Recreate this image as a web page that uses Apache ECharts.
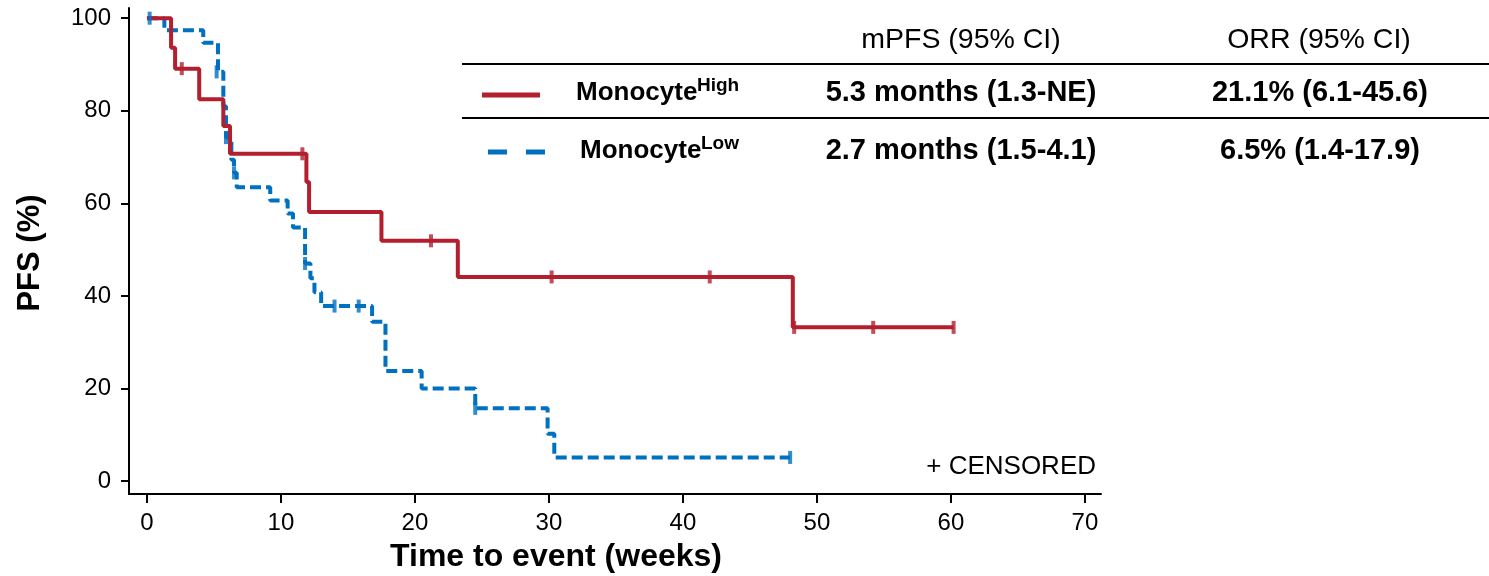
<!DOCTYPE html>
<html lang="en">
<head>
    <meta charset="UTF-8">
    <title>PFS by monocyte level</title>
    <style>
        body, html {
            margin: 0;
            padding: 0;
            width: 100%;
            height: 100%;
            background: #fff;
        }
        #container {
            width: 1489px;
            height: 576px;
        }
    </style>
    <script src="https://cdn.jsdelivr.net/npm/echarts@6/dist/echarts.min.js"></script>
</head>
<body>
<div id="container"></div>
<script type="text/javascript">
    // Monocyte-high arm: time (weeks) where the curve steps, PFS (%) after the step
    var highTime = [0, 1.8, 2.1, 3.9, 5.7, 6.2, 11.9, 12.1, 17.5, 23.2, 48.2, 60.2];
    var highSurv = [100, 93.6, 89.1, 82.5, 76.7, 70.7, 64.6, 58.1, 51.9, 44.1, 33.2, 33.2];
    var highCensorTime = [2.6, 11.6, 21.2, 30.2, 42.0, 48.3, 54.2, 60.2];
    var highCensorSurv = [89.1, 70.7, 51.9, 44.1, 44.1, 33.2, 33.2, 33.2];

    // Monocyte-low arm
    var lowTime = [0, 1.3, 4.2, 5.3, 5.7, 5.9, 6.3, 6.5, 6.7, 9.2, 10.5, 10.9, 11.8, 12.2, 12.5, 13.0, 16.8, 17.8, 20.5, 24.5, 29.9, 30.4, 48.0];
    var lowSurv = [100, 97.4, 94.7, 88.4, 81.0, 74.2, 69.4, 66.6, 63.5, 60.6, 57.8, 54.8, 47.0, 43.8, 40.8, 37.8, 34.4, 23.8, 20.0, 15.7, 10.2, 5.1, 5.1];
    var lowCensorTime = [0.2, 5.2, 5.9, 6.5, 11.8, 14.0, 15.8, 24.5, 48.0];
    var lowCensorSurv = [100, 88.4, 74.2, 66.6, 47.0, 37.8, 37.8, 15.7, 5.1];

    var xTicks = [0, 10, 20, 30, 40, 50, 60, 70];
    var yTicks = [0, 20, 40, 60, 80, 100];

    // table next to the curves
    var tableHeader = ['mPFS (95% CI)', 'ORR (95% CI)'];
    var groupNames = ['Monocyte', 'Monocyte'];
    var groupSup = ['High', 'Low'];
    var mpfs = ['5.3 months (1.3-NE)', '2.7 months (1.5-4.1)'];
    var orr = ['21.1% (6.1-45.6)', '6.5% (1.4-17.9)'];

    var RED = '#B31F2E';
    var BLUE = '#0070C0';
    var FONT = '"Liberation Sans", Arial, sans-serif';

    function pairs(xs, ys) {
        return xs.map(function (x, i) { return [x, ys[i]]; });
    }

    function txt(x, y, s, font, align) {
        return {type: 'text', x: x, y: y, style: {text: s, font: font, fill: '#000', textAlign: align || 'center', textVerticalAlign: 'middle'}};
    }

    var rowY = [93, 151];
    var graphics = [
        txt(961, 40, tableHeader[0], '28.5px ' + FONT),
        txt(1319, 40, tableHeader[1], '28.5px ' + FONT),
        {type: 'line', shape: {x1: 462, y1: 64, x2: 1489, y2: 64}, style: {stroke: '#000', lineWidth: 2}},
        {type: 'line', shape: {x1: 462, y1: 118, x2: 1489, y2: 118}, style: {stroke: '#000', lineWidth: 2}},
        {type: 'line', shape: {x1: 482, y1: 95, x2: 540, y2: 95}, style: {stroke: RED, lineWidth: 5}},
        {type: 'line', shape: {x1: 488, y1: 152, x2: 545, y2: 152}, style: {stroke: BLUE, lineWidth: 5, lineDash: [19, 19]}},
        // axis titles
        txt(556, 557, 'Time to event (weeks)', 'bold 32px ' + FONT),
        txt(1096, 467, '+ CENSORED', '26px ' + FONT, 'right')
    ];
    var yName = txt(30, 253, 'PFS (%)', 'bold 31px ' + FONT);
    yName.rotation = Math.PI / 2;
    graphics.push(yName);

    var nameX = [576, 580];
    for (var i = 0; i < 2; i++) {
        graphics.push(txt(nameX[i], rowY[i], groupNames[i], 'bold 26px ' + FONT, 'left'));
        graphics.push(txt(nameX[i] + 121, rowY[i] - 7, groupSup[i], 'bold 19px ' + FONT, 'left'));
        graphics.push(txt(961, rowY[i], mpfs[i], 'bold 29px ' + FONT));
        graphics.push(txt(1320, rowY[i], orr[i], 'bold 29px ' + FONT));
    }

    var dom = document.getElementById('container');
    var myChart = echarts.init(dom);
    var option = {
        animation: false,
        backgroundColor: '#fff',
        textStyle: {fontFamily: FONT},
        grid: {left: 129, right: 388, top: 8, bottom: 82, containLabel: false},
        xAxis: {
            type: 'value',
            min: -1.34,
            max: 71.2,
            axisLine: {show: true, onZero: false, lineStyle: {color: '#000', width: 2}},
            axisTick: {show: true, customValues: xTicks, length: 9, lineStyle: {color: '#000', width: 2}},
            axisLabel: {customValues: xTicks, fontSize: 24, color: '#000', margin: 17},
            splitLine: {show: false}
        },
        yAxis: {
            type: 'value',
            min: -2.8,
            max: 102.2,
            axisLine: {show: true, onZero: false, lineStyle: {color: '#000', width: 2}},
            axisTick: {show: true, customValues: yTicks, length: 8, lineStyle: {color: '#000', width: 2}},
            axisLabel: {customValues: yTicks, fontSize: 24, color: '#000', margin: 18},
            splitLine: {show: false}
        },
        graphic: graphics,
        series: [
            {
                name: 'Monocyte High', type: 'line', step: 'end', symbol: 'none',
                data: pairs(highTime, highSurv),
                lineStyle: {color: RED, width: 4}, z: 3
            },
            {
                name: 'Monocyte Low', type: 'line', step: 'end', symbol: 'none',
                data: pairs(lowTime, lowSurv),
                lineStyle: {color: BLUE, width: 4, type: [11, 5]}, z: 2
            },
            {
                type: 'scatter', symbol: 'rect', symbolSize: [4, 13],
                data: pairs(highCensorTime, highCensorSurv),
                itemStyle: {color: RED}, z: 4
            },
            {
                type: 'scatter', symbol: 'rect', symbolSize: [4, 13],
                data: pairs(lowCensorTime, lowCensorSurv),
                itemStyle: {color: BLUE}, z: 4
            }
        ]
    };
    myChart.setOption(option);
</script>
</body>
</html>
